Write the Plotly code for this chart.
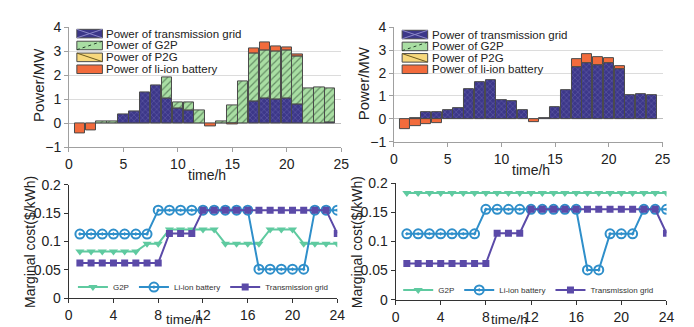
import plotly.graph_objects as go

W, H = 694, 327

hours = list(range(1, 25))

# ---- top-left: power balance (case 1)
tl_grid = [0, 0, 0, 0, 0.35, 0.48, 1.27, 1.58, 1.05, 0.60, 0.55, 0, 0, 0, 0, 0,
           0.90, 1.03, 1.00, 1.05, 0.78, 0, 0, 0.05]
tl_g2p = [0, 0, 0.08, 0.08, 0, 0, 0, 0, 0.87, 0.27, 0.31, 0.54, 0, 0.07, 0.75, 1.73,
          2.00, 2.00, 2.00, 2.00, 2.02, 1.45, 1.51, 1.42]
tl_p2g = [0] * 24
tl_bat = [-0.41, -0.31, 0, 0, 0, 0, 0, 0, 0, 0, 0, 0, -0.13, 0, -0.03, 0,
          0.22, 0.33, 0.22, 0.10, 0.08, 0, 0, 0]

# ---- top-right: power balance (case 2)
tr_grid = [0, 0.03, 0.31, 0.28, 0.39, 0.48, 1.28, 1.60, 1.71, 0.81, 0.77, 0.40, 0, 0.04,
           0.51, 1.24, 2.25, 2.41, 2.36, 2.43, 2.16, 1.05, 1.08, 1.05]
tr_g2p = [0] * 24
tr_p2g = [0] * 24
tr_bat = [-0.44, -0.33, -0.22, -0.18, 0, 0, 0, 0, 0, 0, 0, 0, -0.14, 0, 0, 0,
          0.34, 0.43, 0.32, 0.21, 0.16, 0, 0, 0]

# ---- bottom-left: marginal cost (case 1)
bl_g2p = [0.082] * 6 + [0.096] * 2 + [0.121] * 5 + [0.096] * 4 + [0.121] * 3 + [0.096] * 4
bl_bat = [0.113] * 7 + [0.155] * 9 + [0.051] * 5 + [0.155] * 3
bl_grid = [0.062] * 8 + [0.114] * 3 + [0.155] * 12 + [0.114]

# ---- bottom-right: marginal cost (case 2)
br_g2p = [0.183] * 24
br_bat = [0.113] * 7 + [0.155] * 9 + [0.051] * 2 + [0.113] * 3 + [0.155] * 3
br_grid = [0.062] * 8 + [0.114] * 3 + [0.155] * 12 + [0.114]

power_xticks = [0, 5, 10, 15, 20, 25]
power_yticks = [-1, 0, 1, 2, 3, 4]
cost_xticks = [0, 4, 8, 12, 16, 20, 24]
cost_yticks = [0, 0.05, 0.1, 0.15, 0.2]
cost_yticklabels = ["0", "0.05", "0.1", "0.15", "0.2"]

bar_names = ["Power of transmission grid", "Power of G2P", "Power of P2G", "Power of li-ion battery"]
line_names = ["G2P", "Li-ion battery", "Transmission grid"]

C_GRID_BG, C_GRID_FG = "#3c3789", "#8c88c9"
C_G2P_BG, C_G2P_FG = "#a9dea3", "#24402a"
C_P2G_BG, C_P2G_FG = "#f7d87c", "#6b5a20"
C_BAT = "#f26b3c"
C_L_G2P = "#5fcaa0"
C_L_BAT = "#2f8fca"
C_L_GRID = "#5b4aa8"

FONT = "Liberation Sans, Arial, sans-serif"


def px(x):
    return x / W


def py(y):
    return 1 - y / H


def nz(v):
    return [None if a == 0 else a for a in v]


fig = go.Figure()


def add_bars(grid, g2p, p2g, bat, xa, ya):
    specs = [
        (grid, dict(bgcolor=C_GRID_BG, fgcolor=C_GRID_FG, shape="x", size=4, solidity=0.25), C_GRID_BG),
        (g2p, dict(bgcolor=C_G2P_BG, fgcolor=C_G2P_FG, shape="/", size=5, solidity=0.25), C_G2P_BG),
        (p2g, dict(bgcolor=C_P2G_BG, fgcolor=C_P2G_FG, shape="\\", size=5, solidity=0.25), C_P2G_BG),
        (bat, None, C_BAT),
    ]
    for (vals, pat, col), name in zip(specs, bar_names):
        marker = dict(color=col, line=dict(color="#4a4a4a", width=1))
        if pat is not None:
            marker["pattern"] = pat
        fig.add_trace(go.Bar(x=hours, y=nz(vals), name=name, marker=marker, width=0.95,
                             xaxis=xa, yaxis=ya, showlegend=False))


add_bars(tl_grid, tl_g2p, tl_p2g, tl_bat, "x", "y")
add_bars(tr_grid, tr_g2p, tr_p2g, tr_bat, "x2", "y2")


def add_lines(g2p, bat, grid, xa, ya, leg):
    fig.add_trace(go.Scatter(x=hours, y=g2p, name=line_names[0], mode="lines+markers",
                             line=dict(color=C_L_G2P, width=2),
                             marker=dict(symbol="triangle-down", size=8, color=C_L_G2P),
                             xaxis=xa, yaxis=ya, legend=leg))
    fig.add_trace(go.Scatter(x=hours, y=bat, name=line_names[1], mode="lines+markers",
                             line=dict(color=C_L_BAT, width=2),
                             marker=dict(symbol="circle-open-dot", size=9, color=C_L_BAT,
                                         line=dict(width=2, color=C_L_BAT)),
                             xaxis=xa, yaxis=ya, legend=leg))
    fig.add_trace(go.Scatter(x=hours, y=grid, name=line_names[2], mode="lines+markers",
                             line=dict(color=C_L_GRID, width=2),
                             marker=dict(symbol="square", size=7, color=C_L_GRID),
                             xaxis=xa, yaxis=ya, legend=leg))


add_lines(bl_g2p, bl_bat, bl_grid, "x3", "y3", "legend")
add_lines(br_g2p, br_bat, br_grid, "x4", "y4", "legend2")

power_x = dict(range=[0, 25], tickvals=power_xticks, showline=True, linecolor="#a0a0a0",
               ticks="outside", ticklen=4, tickcolor="#a0a0a0", showgrid=False, zeroline=False,
               tickfont=dict(size=14, color="#222"))
power_y = dict(range=[-1, 4], tickvals=power_yticks, showline=True, linecolor="#a0a0a0",
               ticks="outside", ticklen=4, tickcolor="#a0a0a0", showgrid=True,
               gridcolor="#dcdcdc", gridwidth=1, zeroline=True, zerolinecolor="#bdbdbd",
               zerolinewidth=1, tickfont=dict(size=14, color="#222"))
cost_x = dict(range=[0, 24], tickvals=cost_xticks, showline=True, linecolor="#333",
              ticks="outside", ticklen=4, tickcolor="#333", showgrid=False, zeroline=False,
              tickfont=dict(size=14, color="#222"))
cost_y = dict(range=[0, 0.2], tickvals=cost_yticks, ticktext=cost_yticklabels, showline=True,
              linecolor="#333", ticks="outside", ticklen=4, tickcolor="#333", showgrid=False,
              zeroline=False, tickfont=dict(size=14, color="#222"))

fig.update_layout(
    width=W, height=H,
    margin=dict(l=0, r=0, t=0, b=0),
    paper_bgcolor="white", plot_bgcolor="white",
    font=dict(family=FONT, color="#222"),
    barmode="relative", bargap=0,
    xaxis=dict(power_x, domain=[px(58), px(335)], anchor="y"),
    yaxis=dict(power_y, domain=[py(138), py(12)], anchor="x"),
    xaxis2=dict(power_x, domain=[px(388.7), px(662)], anchor="y2"),
    yaxis2=dict(power_y, domain=[py(132.3), py(11.7)], anchor="x2"),
    xaxis3=dict(cost_x, domain=[px(57.7), px(331)], anchor="y3"),
    yaxis3=dict(cost_y, domain=[py(296.7), py(177.3)], anchor="x3"),
    xaxis4=dict(cost_x, domain=[px(390.3), px(666)], anchor="y4"),
    yaxis4=dict(cost_y, domain=[py(298.3), py(175.7)], anchor="x4"),
    legend=dict(orientation="h", x=px(62), y=py(285), xanchor="left", yanchor="middle",
                bgcolor="rgba(0,0,0,0)", font=dict(size=8, color="#333"), itemwidth=30,
                tracegroupgap=0),
    legend2=dict(orientation="h", x=px(393), y=py(288), xanchor="left", yanchor="middle",
                 bgcolor="rgba(0,0,0,0)", font=dict(size=8, color="#333"), itemwidth=30,
                 tracegroupgap=0),
)

# axis titles as annotations
ann = []


def text(x, y, s, size=14, angle=0):
    ann.append(dict(x=px(x), y=py(y), xref="paper", yref="paper", text=s, showarrow=False,
                    textangle=angle, font=dict(size=size, color="#222", family=FONT),
                    xanchor="center", yanchor="middle"))


text(27, 73, "Power/MW", 15, -90)
text(358, 71, "Power/MW", 15, -90)
text(198, 167, "time/h", 14)
text(528, 162, "time/h", 14)
text(19, 238, "Marginal cost($/kWh)", 14, -90)
text(351, 238, "Marginal cost($/kWh)", 14, -90)
text(176, 319, "time/h", 13.5)
text(506, 319, "time/h", 13.5)

# manual legends for bar charts
shapes = []


def legend_block(x0, x_text, rows):
    fills = [C_GRID_BG, C_G2P_BG, C_P2G_BG, C_BAT]
    for i, (name, yc) in enumerate(zip(bar_names, rows)):
        xa, xb = px(x0), px(x0 + 26)
        ya, yb = py(yc + 4.5), py(yc - 4.5)
        shapes.append(dict(type="rect", xref="paper", yref="paper", x0=xa, x1=xb, y0=ya, y1=yb,
                           fillcolor=fills[i], line=dict(color="#4a4a4a", width=1)))
        if i == 0:
            shapes.append(dict(type="line", xref="paper", yref="paper", x0=xa, x1=xb, y0=ya, y1=yb,
                               line=dict(color=C_GRID_FG, width=1)))
            shapes.append(dict(type="line", xref="paper", yref="paper", x0=xa, x1=xb, y0=yb, y1=ya,
                               line=dict(color=C_GRID_FG, width=1)))
        elif i == 1:
            shapes.append(dict(type="line", xref="paper", yref="paper", x0=xa, x1=xb, y0=ya, y1=yb,
                               line=dict(color=C_G2P_FG, width=1, dash="dot")))
        elif i == 2:
            shapes.append(dict(type="line", xref="paper", yref="paper", x0=xa, x1=xb, y0=yb, y1=ya,
                               line=dict(color=C_P2G_FG, width=1)))
        ann.append(dict(x=px(x_text), y=py(yc), xref="paper", yref="paper", text=name,
                        showarrow=False, xanchor="left", yanchor="middle",
                        font=dict(size=11.5, color="#222", family=FONT)))


legend_block(66, 94, [18.5, 31, 43.5, 56])
legend_block(397, 425, [19.5, 32, 44, 56])

fig.update_layout(annotations=ann, shapes=shapes)

fig.write_html("out.html")
